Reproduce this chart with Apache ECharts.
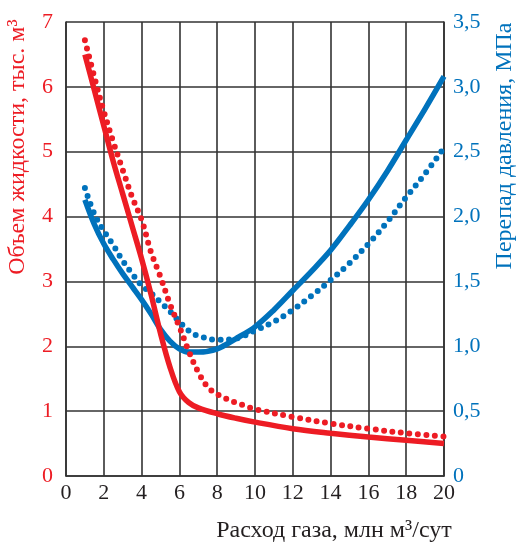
<!DOCTYPE html>
<html>
<head>
<meta charset="utf-8">
<script src="https://cdn.jsdelivr.net/npm/echarts@6/dist/echarts.min.js"></script>
<style>html,body{margin:0;padding:0;background:#fff;}#c{width:517px;height:546px;}</style>
</head>
<body>
<div id="c"></div>
<script>
// Gas flow rate, mln m3/day
const redSolidX = [1, 1.5, 2, 2.5, 3, 3.5, 4, 4.5, 5, 5.5, 6, 6.5, 7, 8, 9, 10, 12, 14, 16, 18, 20];
const redSolidY = [6.5, 5.95, 5.4, 4.85, 4.35, 3.85, 3.35, 2.8, 2.2, 1.68, 1.3, 1.13, 1.05, 0.96, 0.89, 0.83, 0.73, 0.66, 0.6, 0.55, 0.5];

const redDotX = [1, 1.5, 2, 2.5, 3, 3.5, 4, 4.5, 5, 5.5, 6, 6.5, 7, 7.5, 8, 8.5, 9, 9.5, 10, 12, 14, 16, 18, 20];
const redDotY = [6.72, 6.15, 5.62, 5.15, 4.72, 4.3, 3.95, 3.45, 3.07, 2.65, 2.3, 1.92, 1.6, 1.37, 1.26, 1.19, 1.13, 1.08, 1.03, 0.91, 0.81, 0.73, 0.66, 0.61];

const blueSolidX = [1, 1.5, 2, 2.5, 3, 3.5, 4, 4.5, 5, 5.5, 6, 6.5, 7, 8, 9, 10, 11, 12, 13, 14, 15, 16, 17, 18, 19, 20];
const blueSolidY = [2.13, 1.94, 1.79, 1.67, 1.56, 1.46, 1.36, 1.25, 1.13, 1.04, 0.98, 0.955, 0.955, 0.98, 1.06, 1.15, 1.28, 1.43, 1.58, 1.74, 1.93, 2.13, 2.35, 2.59, 2.83, 3.08];

const blueDotX = [1, 1.5, 2, 2.5, 3, 3.5, 4, 4.5, 5, 5.5, 6, 6.5, 7, 8, 9, 10, 11, 12, 13, 14, 15, 16, 17, 18, 19, 20];
const blueDotY = [2.22, 2.02, 1.89, 1.78, 1.66, 1.56, 1.47, 1.41, 1.34, 1.27, 1.19, 1.12, 1.08, 1.05, 1.06, 1.12, 1.19, 1.28, 1.39, 1.51, 1.64, 1.79, 1.96, 2.15, 2.33, 2.53];

const xName = 'Расход газа, млн м³/сут';
const leftName = 'Объем жидкости, тыс. м³';
const rightName = 'Перепад давления, МПа';

const RED = '#ED1C24';
const BLUE = '#0072BC';
const GRIDC = '#333333';
const FONT = "'Liberation Serif', 'Times New Roman', serif";

function zip(xs, ys) { return xs.map((x, i) => [x, ys[i]]); }

const chart = echarts.init(document.getElementById('c'), null, {renderer: 'canvas'});
chart.setOption({
  animation: false,
  backgroundColor: '#fff',
  grid: {left: 66, right: 73, top: 22, bottom: 70, containLabel: false},
  xAxis: {
    type: 'value', min: 0, max: 20, interval: 2,
    axisLine: {show: true, lineStyle: {color: GRIDC, width: 1.6}},
    axisTick: {show: false},
    axisLabel: {color: '#231F20', fontFamily: FONT, fontSize: 22, margin: 6},
    splitLine: {show: true, lineStyle: {color: GRIDC, width: 1.6}}
  },
  yAxis: [{
    type: 'value', min: 0, max: 7, interval: 1, position: 'left',
    axisLine: {show: true, lineStyle: {color: GRIDC, width: 1.6}},
    axisTick: {show: false},
    axisLabel: {color: RED, fontFamily: FONT, fontSize: 22, margin: 13},
    splitLine: {show: true, lineStyle: {color: GRIDC, width: 1.6}}
  }, {
    type: 'value', min: 0, max: 3.5, interval: 0.5, position: 'right',
    axisLine: {show: true, lineStyle: {color: GRIDC, width: 1.6}},
    axisTick: {show: false},
    axisLabel: {color: BLUE, fontFamily: FONT, fontSize: 22, margin: 9,
      formatter: v => v === 0 ? '0' : v.toFixed(1).replace('.', ',')},
    splitLine: {show: false}
  }],
  graphic: [
    {type: 'text', x: 334, y: 531, style: {text: xName, font: '24px ' + FONT, fill: '#231F20', align: 'center', verticalAlign: 'middle'}},
    {type: 'text', rotation: Math.PI / 2, x: 18, y: 147, style: {text: leftName, font: '24px ' + FONT, fill: RED, align: 'center', verticalAlign: 'middle'}},
    {type: 'text', rotation: Math.PI / 2, x: 505, y: 146, style: {text: rightName, font: '24px ' + FONT, fill: BLUE, align: 'center', verticalAlign: 'middle'}}
  ],
  series: [
    {type: 'line', yAxisIndex: 1, data: zip(blueDotX, blueDotY), smooth: 0.35, showSymbol: false,
      lineStyle: {color: BLUE, width: 6, type: [0, 8.5], cap: 'round'}, z: 2},
    {type: 'line', yAxisIndex: 1, data: zip(blueSolidX, blueSolidY), smooth: 0.35, showSymbol: false,
      lineStyle: {color: BLUE, width: 5.5}, z: 3},
    {type: 'line', yAxisIndex: 0, data: zip(redDotX, redDotY), smooth: 0.35, showSymbol: false,
      lineStyle: {color: RED, width: 6, type: [0, 8.5], cap: 'round'}, z: 4},
    {type: 'line', yAxisIndex: 0, data: zip(redSolidX, redSolidY), smooth: 0.35, showSymbol: false,
      lineStyle: {color: RED, width: 5.5}, z: 5}
  ]
});
</script>
</body>
</html>
